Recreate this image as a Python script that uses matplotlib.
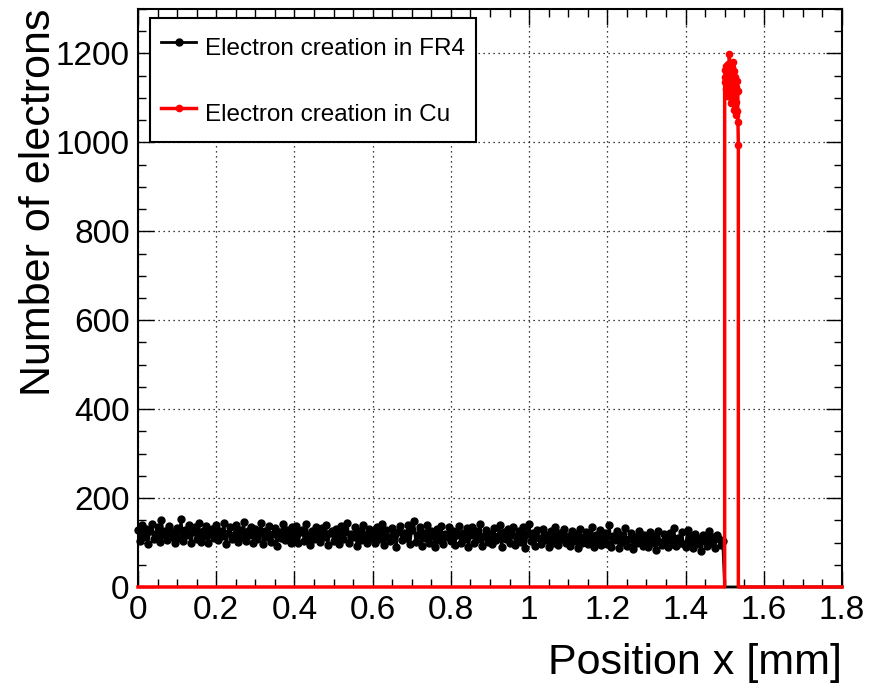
import numpy as np
import matplotlib
matplotlib.use("Agg")
import matplotlib.pyplot as plt
from matplotlib.ticker import MultipleLocator

plt.rcParams['font.family'] = ['Liberation Sans', 'DejaVu Sans']

# electrons created in FR4, bins of 0.005 mm from 0 to 1.495 mm
fr4_counts = [
    128, 104, 139, 112, 131, 97, 125, 142, 108, 119, 135, 101, 150, 116, 127, 106, 138, 113, 124, 99,
    133, 110, 152, 104, 129, 117, 140, 98, 123, 136, 109, 145, 102, 126, 114, 137, 100, 121, 131, 111,
    140, 105, 127, 115, 143, 96, 122, 134, 108, 118, 139, 101, 128, 112, 146, 103, 125, 117, 136, 99,
    130, 107, 121, 144, 97, 126, 113, 138, 102, 119, 132, 93, 124, 110, 141, 105, 128, 116, 100, 134,
    111, 137, 98, 123, 129, 104, 142, 115, 95, 126, 108, 135, 119, 101, 133, 112, 140, 94, 122, 127,
    103, 131, 116, 96, 138, 109, 124, 145, 100, 120, 113, 134, 92, 127, 106, 139, 118, 99, 130, 111,
    125, 98, 136, 108, 119, 142, 94, 128, 113, 103, 133, 117, 90, 124, 137, 105, 121, 110, 139, 97,
    129, 148, 101, 118, 135, 93, 122, 110, 140, 99, 126, 114, 89, 131, 106, 137, 96, 120, 112, 134,
    104, 127, 95, 116, 138, 100, 121, 109, 132, 91, 118, 135, 98, 125, 107, 141, 93, 114, 129, 102,
    120, 96, 133, 105, 115, 139, 90, 124, 108, 130, 99, 117, 136, 94, 112, 127, 101, 134, 88, 119,
    142, 103, 121, 92, 128, 110, 97, 131, 106, 116, 89, 125, 100, 134, 112, 95, 122, 107, 130, 98,
    115, 93, 126, 104, 119, 87, 131, 100, 112, 123, 96, 108, 136, 91, 117, 102, 128, 94, 110, 121,
    97, 139, 90, 114, 106, 125, 88, 118, 101, 132, 93, 109, 122, 86, 113, 99, 127, 104, 92, 116,
    108, 91, 123, 98, 115, 84, 126, 102, 95, 119, 106, 89, 121, 97, 133, 93, 111, 100, 124, 96,
    90, 128, 101, 114, 87, 120, 96, 109, 82, 117, 104, 93, 125, 99, 112, 88, 118, 107, 95, 103,
]
fr4_x = np.arange(len(fr4_counts)) * 0.005

# electrons created in Cu, bins of 0.001 mm from 1.500 mm
cu_counts = [
    1148, 1135, 1162, 1120, 1171, 1143, 1105, 1158, 1130, 1176, 1112, 1150,
    1198, 1165, 1138, 1089, 1152, 1127, 1169, 1098, 1144, 1181, 1116, 1135,
    1073, 1160, 1108, 1147, 1062, 1125, 1090, 1139, 1070, 1115, 1045, 995,
]
cu_x = 1.5 + np.arange(len(cu_counts)) * 0.001

x_min, x_max = 0.0, 1.8
y_max = 1300
x_ticks = [0, 0.2, 0.4, 0.6, 0.8, 1.0, 1.2, 1.4, 1.6, 1.8]
x_labels = ['0', '0.2', '0.4', '0.6', '0.8', '1', '1.2', '1.4', '1.6', '1.8']
y_ticks = [0, 200, 400, 600, 800, 1000, 1200]

# full histograms: zero outside the material
black_x = np.concatenate([fr4_x, [1.5, x_max]])
black_y = np.concatenate([fr4_counts, [0, 0]])
red_x = np.concatenate([[x_min, cu_x[0]], cu_x, [cu_x[-1], x_max]])
red_y = np.concatenate([[0, 0], cu_counts, [0, 0]])

fig = plt.figure(figsize=(8.69, 6.98), dpi=100)
ax = fig.add_axes([138/869, 1 - 587/698, 704/869, 578/698])

ax.plot(black_x, black_y, color='black', lw=2, marker='o', ms=5,
        markevery=list(range(len(fr4_counts))), label='Electron creation in FR4',
        zorder=3, clip_on=False)
ax.plot(red_x, red_y, color='red', lw=2.5, marker='o', ms=4.5,
        markevery=list(range(2, 2 + len(cu_counts))), label='Electron creation in Cu',
        zorder=4, clip_on=False)

ax.set_xlim(x_min, x_max)
ax.set_ylim(0, y_max)
ax.set_xticks(x_ticks)
ax.set_xticklabels(x_labels)
ax.set_yticks(y_ticks)
ax.xaxis.set_minor_locator(MultipleLocator(0.05))
ax.yaxis.set_minor_locator(MultipleLocator(50))
ax.tick_params(which='both', direction='in', top=True, right=True, labelsize=24, width=1)
ax.tick_params(which='major', length=11.5, pad=6)
ax.tick_params(which='minor', length=5.8)
for s in ax.spines.values():
    s.set_linewidth(1.5)

ax.grid(True, which='major', color='black', lw=0.9, linestyle=(0, (1, 3)))
ax.set_axisbelow(True)

ax.set_xlabel('Position x [mm]', fontsize=31, loc='right')
ax.xaxis.set_label_coords(1.0, -0.097)
ax.set_ylabel('Number of electrons', fontsize=31, loc='top')
ax.yaxis.set_label_coords(-0.112, 1.0)

leg = ax.legend(loc='upper left', bbox_to_anchor=(0.017, 0.984), borderaxespad=0,
                fontsize=17.5, handlelength=1.45, handleheight=1.9, handletextpad=0.37,
                labelspacing=1.25, borderpad=0.45, fancybox=False, framealpha=1,
                edgecolor='black')
leg.get_frame().set_linewidth(1.5)

fig.savefig('out.png', dpi=100)
